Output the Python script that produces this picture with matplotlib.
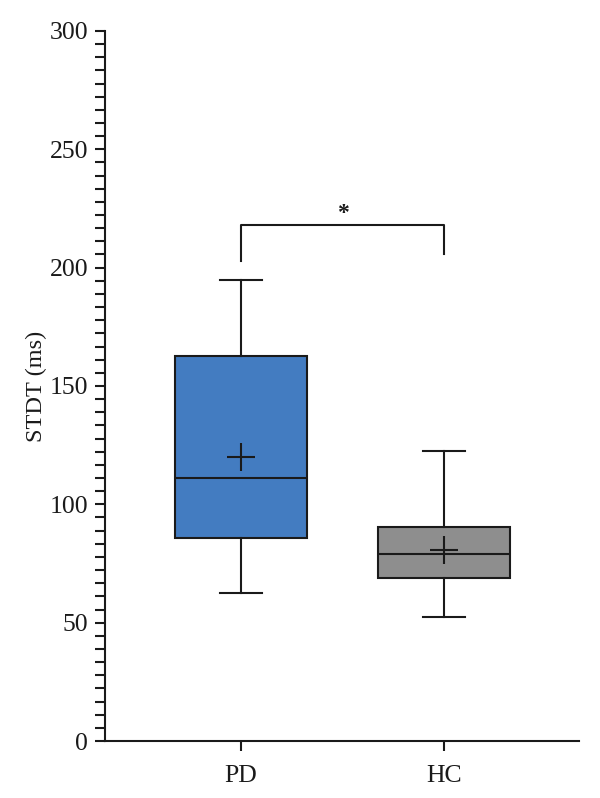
import matplotlib
matplotlib.use("Agg")
import matplotlib.pyplot as plt
from matplotlib.ticker import MultipleLocator, AutoMinorLocator

# Data
groups = ["PD", "HC"]
whisker_low = [62.5, 52.4]
q1 = [85.9, 68.9]
median = [111.0, 79.0]
q3 = [162.8, 90.5]
whisker_high = [194.8, 122.6]
mean = [120.1, 80.6]
box_colors = ["#437CC1", "#8E8E8E"]

# significance bracket
bracket_y = 218.0
bracket_leg_ends = [202.8, 205.7]
sig_label = "*"

plt.rcParams["font.family"] = ["Liberation Serif", "DejaVu Serif"]

fig = plt.figure(figsize=(6.0, 7.98), dpi=100)
ax = fig.add_axes([0.175, 0.0714, 0.79, 0.8898])

stats = []
for i, g in enumerate(groups):
    stats.append(dict(label=g, whislo=whisker_low[i], q1=q1[i], med=median[i],
                      q3=q3[i], whishi=whisker_high[i], mean=mean[i], fliers=[]))

lw = 1.5
ink = "#1a1a1a"
positions = list(range(len(groups)))
bp = ax.bxp(stats, positions=positions, widths=0.655, patch_artist=True,
            showmeans=True, showfliers=False,
            boxprops=dict(linewidth=lw, edgecolor=ink),
            medianprops=dict(color=ink, linewidth=lw),
            whiskerprops=dict(color=ink, linewidth=lw),
            capprops=dict(color=ink, linewidth=lw),
            meanprops=dict(marker="+", markersize=20, markeredgecolor=ink,
                           markeredgewidth=lw, markerfacecolor="none"),
            capwidths=0.21)
for patch, c in zip(bp["boxes"], box_colors):
    patch.set_facecolor(c)

# bracket
ax.plot([positions[0], positions[0], positions[1], positions[1]],
        [bracket_leg_ends[0], bracket_y, bracket_y, bracket_leg_ends[1]],
        color=ink, linewidth=lw)
ax.text((positions[0] + positions[1]) / 2, bracket_y + 5, sig_label,
        ha="center", va="center", fontsize=17, fontweight="bold", color=ink)

ax.set_xlim(-0.67, 1.665)
ax.set_ylim(0, 300)
ax.yaxis.set_major_locator(MultipleLocator(50))
ax.yaxis.set_minor_locator(AutoMinorLocator(9))
ax.set_xticks(positions)
ax.set_xticklabels(groups)

for s in ["top", "right"]:
    ax.spines[s].set_visible(False)
for s in ["left", "bottom"]:
    ax.spines[s].set_linewidth(lw)
    ax.spines[s].set_color(ink)

ax.tick_params(axis="both", which="both", direction="out", width=lw,
               length=7, color=ink, labelsize=18.5, labelcolor=ink)
ax.tick_params(axis="y", pad=5)
ax.tick_params(axis="x", pad=10)
ax.set_ylabel("STDT (ms)", fontsize=17.5, color=ink, labelpad=2)

fig.savefig("out.png", dpi=100)
